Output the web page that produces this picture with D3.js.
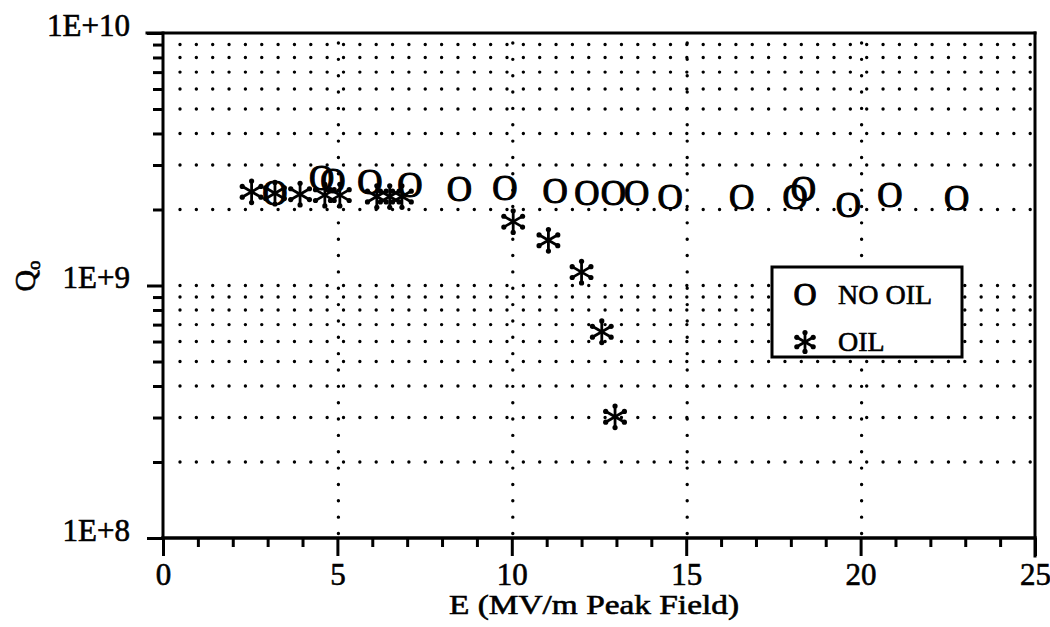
<!DOCTYPE html>
<html>
<head>
<meta charset="utf-8">
<script src="https://cdn.jsdelivr.net/npm/d3@7"></script>
<style>
  body { margin: 0; background: #fff; }
  text { font-family: "Liberation Serif", "Times New Roman", serif; fill: #000; stroke: #000; stroke-width: 0.6px; }
</style>
</head>
<body>
<div id="chart"></div>
<script>
// data
var noOilE = [3.21, 4.55, 4.87, 5.93, 7.08, 8.5, 9.8, 11.24, 12.15, 12.91, 13.58, 14.54, 16.59, 18.12, 18.36, 19.65, 20.84, 22.75];
var noOilQ = [2.32e9, 2.66e9, 2.58e9, 2.55e9, 2.5e9, 2.39e9, 2.42e9, 2.35e9, 2.32e9, 2.32e9, 2.32e9, 2.24e9, 2.24e9, 2.24e9, 2.39e9, 2.08e9, 2.28e9, 2.22e9];
var oilE = [2.54, 3.21, 3.93, 4.64, 5.07, 6.13, 6.5, 6.85, 10.04, 11.05, 12.0, 12.58, 12.96];
var oilQ = [2.35e9, 2.32e9, 2.3e9, 2.28e9, 2.28e9, 2.25e9, 2.25e9, 2.25e9, 1.79e9, 1.51e9, 1.13e9, 6.56e8, 3.02e8];
var xMajor = [0, 5, 10, 15, 20, 25];
var yMajor = [1e8, 1e9, 1e10];
var yTickLabels = ["1E+8", "1E+9", "1E+10"];
var legendLabels = ["NO OIL", "OIL"];

var W = 1050, H = 627;
var margin = {top: 33, right: 15, bottom: 89, left: 163};

var svg = d3.select("#chart").append("svg")
    .attr("width", W).attr("height", H);

var x = d3.scaleLinear().domain([0, 25]).range([margin.left, W - margin.right]);
var y = d3.scaleLog().domain([1e8, 1e10]).range([H - margin.bottom, margin.top]);

// minor values
var xMinor = d3.range(0, 26).filter(function(d){ return d % 5 != 0; });
var yMinor = [];
[1e8, 1e9].forEach(function(dec){
  for (var k = 2; k <= 9; k++) yMinor.push(dec * k);
});

// dotted grid
var grid = svg.append("g")
    .attr("stroke", "#000")
    .attr("stroke-width", 3.4)
    .attr("stroke-linecap", "round")
    .attr("stroke-dasharray", "0,16.35");

grid.selectAll(".hgrid")
  .data(yMinor.concat([1e9]))
  .enter().append("line")
    .attr("x1", x(0) + 17).attr("x2", x(25) - 2)
    .attr("y1", function(d){ return y(d); })
    .attr("y2", function(d){ return y(d); });

grid.selectAll(".vgrid")
  .data([5, 10, 15, 20])
  .enter().append("line")
    .attr("x1", function(d){ return x(d) + 1; })
    .attr("x2", function(d){ return x(d) + 1; })
    .attr("y1", y(1e10) + 10).attr("y2", y(1e8) - 2);

// x axis: minor then major ticks
var xAxisMinor = svg.append("g")
    .attr("transform", "translate(0," + y(1e8) + ")")
    .call(d3.axisBottom(x).tickValues(xMinor).tickSize(9).tickSizeOuter(0).tickFormat(""));
var xAxisMajor = svg.append("g")
    .attr("transform", "translate(0," + y(1e8) + ")")
    .call(d3.axisBottom(x).tickValues(xMajor).tickSize(18).tickSizeOuter(0).tickPadding(7)
      .tickFormat(function(d){ return d; }));

// y axis
var yAxisMinor = svg.append("g")
    .attr("transform", "translate(" + x(0) + ",0)")
    .call(d3.axisLeft(y).tickValues(yMinor).tickSize(10).tickSizeOuter(0).tickFormat(""));
var yAxisMajor = svg.append("g")
    .attr("transform", "translate(" + x(0) + ",0)")
    .call(d3.axisLeft(y).tickValues(yMajor).tickSize(16).tickSizeOuter(0).tickPadding(17)
      .tickFormat(function(d, i){ return yTickLabels[i]; }));

[xAxisMinor, xAxisMajor, yAxisMinor, yAxisMajor].forEach(function(a){
  a.select(".domain").remove();
  a.selectAll("line").attr("stroke", "#000").attr("stroke-width", 3);
  a.selectAll("text").style("font-family", "Liberation Serif").attr("font-size", 31).attr("fill", "#000");
});
yAxisMajor.selectAll("text").attr("dy", "0.08em");

// frame
var frame = svg.append("g").attr("stroke", "#000").attr("stroke-width", 3).attr("stroke-linecap", "square");
frame.append("line").attr("x1", x(0) - 16).attr("x2", x(25)).attr("y1", y(1e10)).attr("y2", y(1e10));
frame.append("line").attr("x1", x(0)).attr("x2", x(25)).attr("y1", y(1e8)).attr("y2", y(1e8)).attr("stroke-width", 3.5);
frame.append("line").attr("x1", x(0)).attr("x2", x(0)).attr("y1", y(1e10)).attr("y2", y(1e8));
frame.append("line").attr("x1", x(25)).attr("x2", x(25)).attr("y1", y(1e10)).attr("y2", y(1e8) + 18);

// asterisk marker
function asterisk(g, r) {
  d3.range(6).forEach(function(k){
    var a = Math.PI / 2 + k * Math.PI / 3;
    var ex = r * Math.cos(a), ey = -r * Math.sin(a);
    g.append("line").attr("x1", 0).attr("y1", 0).attr("x2", ex).attr("y2", ey)
      .attr("stroke", "#000").attr("stroke-width", 2.8);
    g.append("circle").attr("cx", ex * 0.9).attr("cy", ey * 0.9).attr("r", 2.6).attr("fill", "#000");
  });
}

// NO OIL points ("O" glyphs)
var noOil = noOilE.map(function(e, i){ return {e: e, q: noOilQ[i]}; });
svg.append("g").selectAll("text")
  .data(noOil)
  .enter().append("text")
    .attr("x", function(d){ return x(d.e); })
    .attr("y", function(d){ return y(d.q); })
    .attr("text-anchor", "middle")
    .attr("dominant-baseline", "central")
    .attr("font-size", 35)
    .style("stroke-width", "1.1px")
    .text("O");

// OIL points
var oil = oilE.map(function(e, i){ return {e: e, q: oilQ[i]}; });
svg.append("g").selectAll("g")
  .data(oil)
  .enter().append("g")
    .attr("transform", function(d){ return "translate(" + x(d.e) + "," + y(d.q) + ")"; })
    .each(function(){ asterisk(d3.select(this), 12); });

// legend
var lg = svg.append("g");
lg.append("rect").attr("x", 772).attr("y", 267).attr("width", 190).attr("height", 90)
  .attr("fill", "#fff").attr("stroke", "#000").attr("stroke-width", 3);
lg.append("text").attr("x", 805).attr("y", 305).attr("text-anchor", "middle")
  .attr("font-size", 32).style("stroke-width", "1px").text("O");
lg.append("text").attr("x", 838).attr("y", 304).attr("font-size", 28).text(legendLabels[0]);
asterisk(lg.append("g").attr("transform", "translate(805,342)"), 10.5);
lg.append("text").attr("x", 838).attr("y", 351).attr("font-size", 28).text(legendLabels[1]);

// axis titles
svg.append("text")
  .attr("x", (x(0) + x(25)) / 2 - 5)
  .attr("y", 614)
  .attr("text-anchor", "middle")
  .attr("font-size", 28)
  .attr("textLength", 290)
  .attr("lengthAdjust", "spacingAndGlyphs")
  .text("E (MV/m Peak Field)");

var yt = svg.append("text")
  .attr("transform", "translate(35,276) rotate(-90)")
  .attr("text-anchor", "middle")
  .attr("font-size", 30);
yt.append("tspan").text("Q");
yt.append("tspan").attr("font-size", 19).attr("dy", "0.25em").text("o");
</script>
</body>
</html>
